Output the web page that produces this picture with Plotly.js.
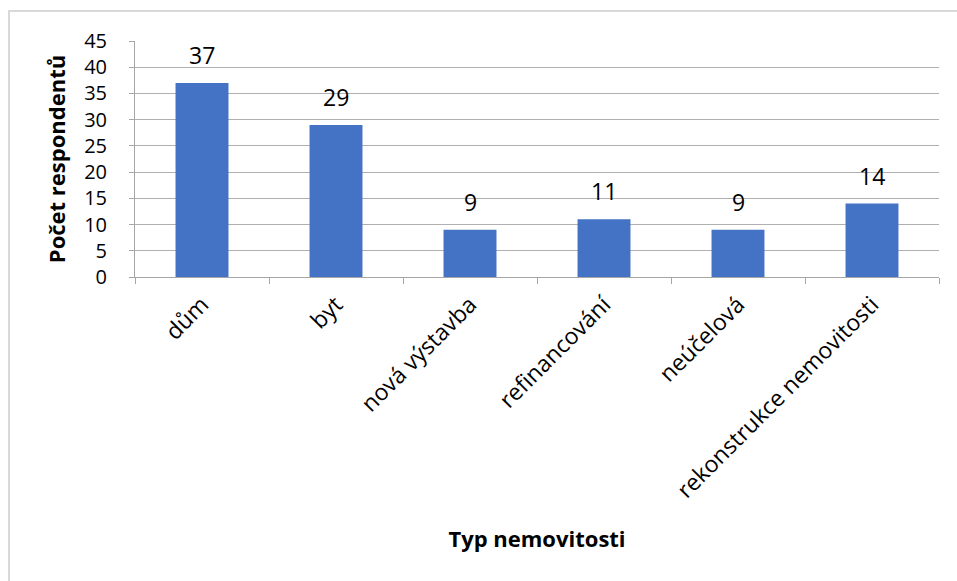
<!DOCTYPE html>
<html><head><meta charset="utf-8">
<script src="https://cdn.plot.ly/plotly-3.0.1.min.js"></script>
<style>body{margin:0;background:#fff}#c{width:957px;height:581px}</style>
</head><body><div id="c"></div>
<script>
const categories = ["dům", "byt", "nová výstavba", "refinancování", "neúčelová", "rekonstrukce nemovitosti"];
const values = [37, 29, 9, 11, 9, 14];
const yTicks = [0, 5, 10, 15, 20, 25, 30, 35, 40, 45];

const FONT = "'Open Sans', Lato, sans-serif";
const trace = {
  type: "bar", x: categories, y: values,
  marker: {color: "#4472C4"},
  hoverinfo: "none"
};
const labels = categories.map((c, i) => ({
  x: c, y: values[i], xref: "x", yref: "y", text: String(values[i]),
  showarrow: false, yanchor: "bottom", yshift: 10,
  font: {family: FONT, size: 23, color: "#000"}
}));
const layout = {
  width: 957, height: 581,
  margin: {l: 135, r: 18, t: 41, b: 304},
  paper_bgcolor: "#fff", plot_bgcolor: "#fff",
  bargap: 0.605, showlegend: false,
  font: {family: FONT, color: "#000"},
  annotations: labels,
  xaxis: {
    type: "category", tickangle: -45, tickson: "boundaries",
    ticks: "outside", ticklen: 6, tickcolor: "#a6a6a6",
    showline: true, linecolor: "#a6a6a6", linewidth: 1, showgrid: false,
    tickfont: {family: FONT, size: 23, color: "#000"},
    ticklabelstandoff: 4,
    title: {text: "<b>Typ nemovitosti</b>", font: {family: FONT, size: 22, color: "#000"}, standoff: 28}
  },
  yaxis: {
    range: [0, 45], tickvals: yTicks, ticktext: yTicks.map(String),
    ticks: "outside", ticklen: 5, tickcolor: "#a6a6a6",
    showline: true, linecolor: "#a6a6a6", linewidth: 1,
    showgrid: true, gridcolor: "#b0b0b0", gridwidth: 1, zeroline: false,
    tickfont: {family: FONT, size: 20, color: "#000"},
    ticklabelstandoff: 18,
    title: {text: "<b>Počet respondentů</b>", font: {family: FONT, size: 22, color: "#000"}, standoff: 12}
  },
  shapes: [{type: "rect", xref: "paper", yref: "paper", x0: -0.1567, x1: 1.05, y0: -1.32, y1: 1.127,
    line: {color: "#d9d9d9", width: 2}, fillcolor: "rgba(0,0,0,0)", layer: "below"}]
};
Plotly.newPlot("c", [trace], layout, {displayModeBar: false, staticPlot: true});
</script></body></html>
